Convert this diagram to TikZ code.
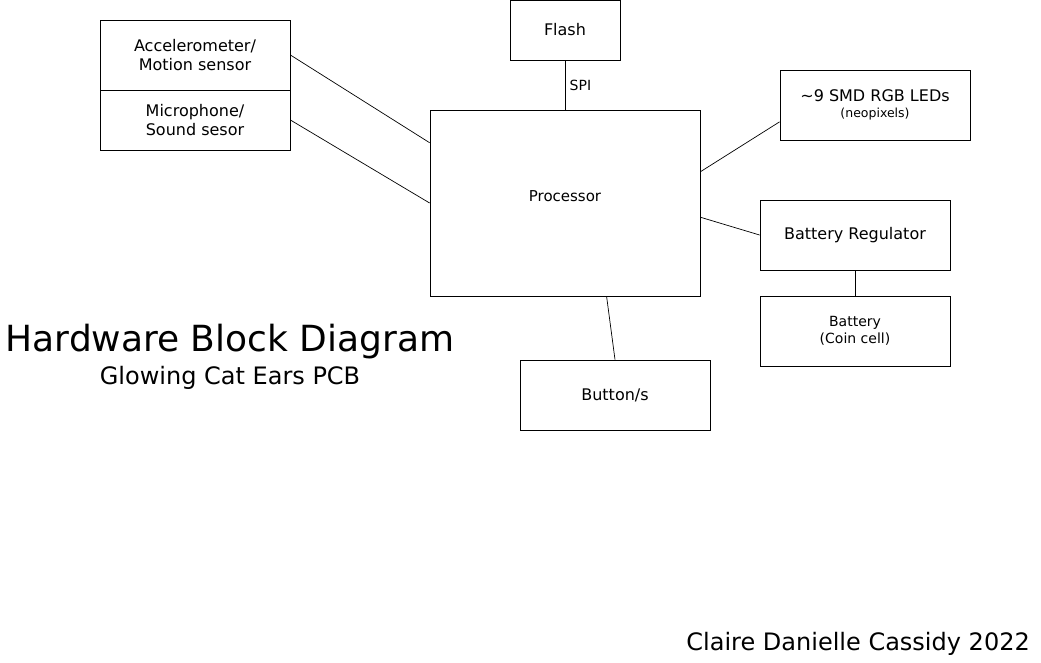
\documentclass[tikz,border=0pt]{standalone}
\usepackage{fontspec}
\setmainfont{DejaVu Sans}
\usepackage{tikz}
\usetikzlibrary{positioning}

\begin{document}
\begin{tikzpicture}[
    x=1pt, y=-1pt,
    block/.style={rectangle, draw=black, fill=white, line width=0.8pt, align=center, inner sep=0pt, font=\fontsize{16}{19}\selectfont},
    small_block/.style={block, font=\fontsize{14}{17}\selectfont},
    line_style/.style={draw=black, line width=0.7pt},
    title_text/.style={inner sep=0pt}
]

\useasboundingbox (0,0) rectangle (1041,662);

% Sensor blocks
\node[block, minimum width=190, minimum height=70] (accel) at (195,55) {Accelerometer/\\Motion sensor};
\node[block, minimum width=190, minimum height=60] (mic) at (195,120) {Microphone/\\Sound sesor};

% Processor and flash
\node[block, minimum width=270, minimum height=186,
      label={[yshift=7pt, font=\fontsize{15}{18}\selectfont]center:Processor}] (proc) at (565,203) {};
\node[block, minimum width=110, minimum height=60] (flash) at (565,30) {Flash};

% Right side blocks
\node[block, minimum width=190, minimum height=70] (leds) at (875,105) {\textasciitilde9 SMD RGB LEDs\\[-3pt]{\fontsize{12.5}{15}\selectfont (neopixels)}};
\node[block, minimum width=190, minimum height=70] (reg) at (855,235) {Battery Regulator};
\node[small_block, minimum width=190, minimum height=70] (batt) at (855,331) {Battery\\(Coin cell)};

% Button
\node[block, minimum width=190, minimum height=70] (button) at (615,395) {Button/s};

% Connections
\draw[line_style] (accel.east) -- (proc.156.75);
\draw[line_style] (mic.east) -- (proc.west);
\draw[line_style] (flash.south) -- node[right=1pt, font=\fontsize{14}{17}\selectfont] (spi) {SPI} (proc.north);
\draw[line_style] (proc.13) -- (leds.190.7);
\draw[line_style] (proc.-6.3) -- (reg.west);
\draw[line_style] (reg.south) -- (batt.north);
\draw[line_style] (proc.-66.7) -- (button.north);

% Titles
\node[title_text, font=\fontsize{36}{43}\selectfont] (title) at (230,342) {Hardware Block Diagram};
\node[title_text, font=\fontsize{24}{29}\selectfont] (subtitle) at (230,378) {Glowing Cat Ears PCB};
\node[title_text, anchor=east, font=\fontsize{24}{29}\selectfont] (author) at (1030,644) {Claire Danielle Cassidy 2022};

\end{tikzpicture}
\end{document}
